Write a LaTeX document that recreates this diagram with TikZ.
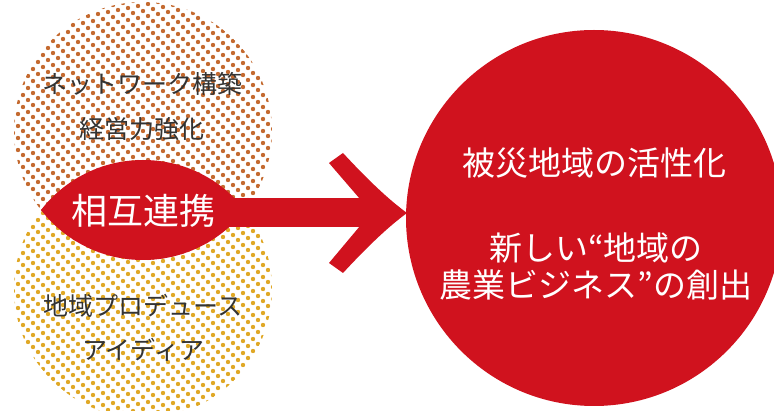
\documentclass[tikz,border=0pt]{standalone}
\usepackage{fontspec}
\setmainfont{Noto Sans CJK JP}
\definecolor{mred}{HTML}{D0121E}
\definecolor{dotbrown}{HTML}{C46A30}
\definecolor{dotgold}{HTML}{E0A826}
\definecolor{txtgray}{HTML}{333333}
\tikzset{
  lefttxt/.style={text=txtgray, font=\fontsize{25}{29}\selectfont, inner sep=0pt},
  lenstxt/.style={text=white, font=\fontsize{36}{42}\selectfont, inner sep=0pt},
  goaltxt/.style={text=white, font=\fontsize{33}{37}\selectfont, inner sep=0pt, align=center},
  dotcircle/.style={circle, minimum size=258pt, inner sep=0pt},
}
\newcommand{\dotfield}[3]{% center x, center y, colour
  \begin{scope}
    \clip (#1,#2) circle (129);
    \foreach \i in {-36,...,36}{
      \foreach \j in {-22,...,22}{
        \pgfmathsetmacro\xx{5*\i+10*\j}
        \pgfmathsetmacro\yy{5*\i-2*\j}
        \pgfmathparse{((\xx/10)^2+(\yy/10)^2<172)?1:0}
        \ifnum\pgfmathresult=1
          \fill[#3] ({#1+\xx},{#2+\yy}) circle (2.2);
        \fi
      }
    }
  \end{scope}
}
\begin{document}
\begin{tikzpicture}[x=1pt,y=-1pt]
\useasboundingbox (0,0) rectangle (774,411);
% circles (named anchors)
\node[dotcircle] (topc) at (143,131) {};
\node[dotcircle] (botc) at (143,289) {};
\dotfield{143}{131}{dotbrown}
\dotfield{143}{289}{dotgold}
% lens
\begin{scope}
  \clip (143,131) circle (129);
  \fill[mred] (143,289) circle (129);
\end{scope}
% goal circle
\node[circle, fill=mred, minimum size=376pt, inner sep=0pt] (goal) at (594,218) {};
% arrow
\fill[mred] (225,198) rectangle (362,227);
\fill[mred] (329,163) -- (343,153)
  .. controls (368,180) and (388,199) .. (407,213)
  .. controls (388,227) and (368,246) .. (343,273)
  -- (329,263) -- (360,226) -- (360,199) -- cycle;
% texts
\node[lefttxt] (t1) at (142,84) {ネットワーク構築};
\node[lefttxt] (t2) at (142,129) {経営力強化};
\node[lenstxt] (lens) at (143,211) {相互連携};
\node[lefttxt] (b1) at (143,306) {地域プロデュース};
\node[lefttxt] (b2) at (143,350) {アイディア};
\node[goaltxt] (g1) at (594,163) {被災地域の活性化};
\node[goaltxt] (g2) at (596,266) {新しい“地域の\\農業ビジネス”の創出};
\end{tikzpicture}
\end{document}
